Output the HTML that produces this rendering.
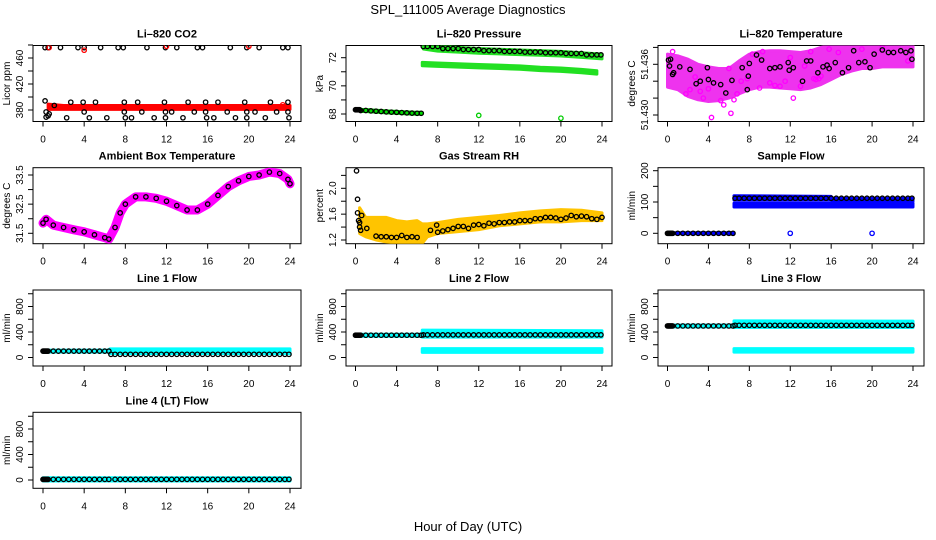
<!DOCTYPE html>
<html><head><meta charset="utf-8"><style>
html,body{margin:0;padding:0;background:#fff}
svg{display:block;font-family:"Liberation Sans",Arial,sans-serif}
</style></head><body>
<svg id="chart" width="936" height="540" viewBox="0 0 936 540" xmlns="http://www.w3.org/2000/svg">
<rect width="936" height="540" fill="#fff"/>
<text x="468" y="14" font-size="13" text-anchor="middle">SPL_111005  Average Diagnostics</text>
<text x="468" y="531" font-size="13" text-anchor="middle">Hour of Day (UTC)</text>
</svg>
<script>
// ---------- data ----------
const xTicks=[0,4,8,12,16,20,24];
const flowHours=[0,0.1,0.2,0.3,0.4,0.5,1,1.5,2,2.5,3,3.5,4,4.5,5,5.5,6,6.4,7,7.5,8,8.5,9,9.5,10,10.5,11,11.5,12,12.5,13,13.5,14,14.5,15,15.5,16,16.5,17,17.5,18,18.5,19,19.5,20,20.5,21,21.5,22,22.5,23,23.5,23.9];
const preHours=[0,0.1,0.2,0.3,0.4,0.5,1,1.5,2,2.5,3,3.5,4,4.5,5,5.5,6,6.4];
const postHours=[6.6,7,7.5,8,8.5,9,9.5,10,10.5,11,11.5,12,12.5,13,13.5,14,14.5,15,15.5,16,16.5,17,17.5,18,18.5,19,19.5,20,20.5,21,21.5,22,22.5,23,23.5,23.9];
// CO2
const co2RedHours=[0.5,2,4,6,8,10,12,14,16,18,20,22,24];
const co2RedLo=[381,381,381,381,381,381,381,381,381,381,381,381,381];
const co2RedHi=[389,387,387,387,387,387,387,387,387,387,387,387,387];
const co2RedPtH=[0.6,4,12,20,23.3];
const co2RedPtV=[476,472,478,478,388];
const co2TopH=[0.2,0.5,1.7,3.4,4,5.6,7.3,7.8,10.1,11.9,13,15,15.5,18.2,19.8,21,23.3,23.8];
const co2TopV=[476,476,476,476,476,476,476,476,476,476,476,476,476,476,476,476,476,476];
const co2LowH=[0.2,0.3,0.3,0.5,0.6,1.1,2.3,2.7,3.9,4,4.5,5.1,6.2,7.9,7.9,8,8.6,9.2,9.6,10.8,11.8,11.9,11.9,12.5,13.6,14.1,14.7,15.8,15.8,15.9,16.6,17,17.9,18.7,19.6,19.8,19.8,20.6,21.6,22.1,22.7,23.8,23.8,23.9];
const co2LowV=[394,377,369,371,374,387,368,392,392,377,368,392,368,392,377,368,368,392,377,368,392,377,368,377,368,392,377,392,377,368,368,392,377,368,392,377,368,377,368,392,377,392,377,368];
// Pressure
const presPreV=[68.3,68.3,68.3,68.3,68.3,68.25,68.25,68.22,68.2,68.18,68.15,68.13,68.12,68.1,68.08,68.06,68.05,68.05];
const presUpH=[6.6,8,10,12,14,16,18,20,22,24];
const presUpV=[72.8,72.65,72.58,72.5,72.45,72.4,72.35,72.3,72.2,72.1];
const presLoH=[6.5,8,10,12,14,16,18,20,22,23.5];
const presLoV=[71.55,71.5,71.45,71.4,71.35,71.3,71.2,71.15,71.05,70.95];
const presOutH=[12,20];
const presOutV=[67.9,67.7];
// Li-820 temperature (cloud band + points)
const tempBandH=[0,1,2,3,4,5,6,7,8,9,10,11,12,13,14,15,16,17,18,19,20,21,22,23,24];
const tempBandLo=[51.4333,51.4330,51.4322,51.4318,51.4316,51.4317,51.4320,51.4325,51.4330,51.4333,51.4333,51.4332,51.4331,51.4330,51.4332,51.4336,51.4342,51.4348,51.4352,51.4355,51.4355,51.4357,51.4357,51.4357,51.4357];
const tempBandHi=[51.4372,51.4370,51.4366,51.4360,51.4357,51.4355,51.4355,51.4364,51.4372,51.4375,51.4376,51.4376,51.4375,51.4374,51.4376,51.4380,51.4382,51.4383,51.4384,51.4384,51.4384,51.4384,51.4384,51.4384,51.4384];
const tempMagH=[0.5,1.8,2.7,3.2,4,4.3,5.2,6,6.2,6.8,7.2,7.8,8.3,9.3,10.5,11.5,12,12.3,13.4,14,14.3,14.8,15.8,16.7,19,21,23.5,2.2,3.5,5.5,6.5,9,10,11,13,14.5,15];
const tempMagV=[51.4375,51.4325,51.4345,51.4328,51.4331,51.4297,51.4317,51.4355,51.4302,51.4325,51.4340,51.4343,51.4372,51.4375,51.4335,51.4340,51.4368,51.4320,51.4358,51.4375,51.4343,51.4343,51.4378,51.4374,51.4378,51.4380,51.4364,51.4330,51.4320,51.4312,51.4318,51.4332,51.4338,51.4334,51.4334,51.4342,51.4346];
const tempBlkH=[0.1,0.2,0.3,0.5,0.6,1.2,2.2,2.8,3.2,3.9,4,4.5,5.2,5.7,6.3,7.3,7.8,7.9,8,8.7,9.2,10,10.5,11,11.8,11.9,12.3,13.2,13.6,14,14.7,15.2,15.6,15.8,16.4,17.1,17.7,18.2,18.7,19.3,19.8,20.2,21,21.6,22.1,22.8,23.3,23.8,23.9];
const tempBlkV=[51.4365,51.4358,51.4366,51.4348,51.4350,51.4357,51.4354,51.4337,51.4340,51.4356,51.4342,51.4338,51.4336,51.4326,51.4341,51.4356,51.4330,51.4346,51.4361,51.4371,51.4365,51.4355,51.4356,51.4357,51.4362,51.4353,51.4356,51.4340,51.4364,51.4364,51.4350,51.4357,51.4359,51.4355,51.4362,51.4350,51.4356,51.4376,51.4362,51.4363,51.4356,51.4372,51.4377,51.4374,51.4374,51.4376,51.4374,51.4376,51.4366];
// Ambient box temperature
const ambH=[0,0.3,1,2,3,4,5,6,6.4,7,7.5,8,9,10,11,12,13,14,15,16,17,18,19,20,21,22,23,23.8,24];
const ambV=[31.85,31.98,31.78,31.7,31.62,31.55,31.45,31.35,31.3,31.7,32.2,32.5,32.75,32.75,32.7,32.6,32.45,32.3,32.3,32.5,32.8,33.1,33.3,33.45,33.5,33.6,33.55,33.35,33.2];
// Gas stream RH
const rhBandH=[0.4,1,2,3,4,5,6,6.5,7,8,10,12,14,16,18,20,22,24];
const rhBandLo=[1.3,1.25,1.2,1.17,1.15,1.15,1.15,1.15,1.25,1.3,1.33,1.36,1.42,1.45,1.48,1.48,1.5,1.5];
const rhBandHi=[1.7,1.55,1.55,1.55,1.5,1.48,1.5,1.45,1.45,1.47,1.52,1.55,1.58,1.62,1.65,1.67,1.66,1.62];
const rhBlkH=[0.1,0.2,0.2,0.3,0.4,0.4,0.5,0.6,1.1,2,2.5,3,3.5,4,4.5,5,5.5,6,7.3,7.9,8,8.5,9,9.5,10,10.5,11,11.5,12,12.5,13,13.5,14,14.5,15,15.5,16,16.5,17,17.5,18,18.5,19,19.5,20,20.5,21,21.5,22,22.5,23,23.5,24];
const rhBlkV=[2.27,1.83,1.62,1.5,1.47,1.4,1.35,1.58,1.38,1.26,1.25,1.25,1.24,1.24,1.27,1.24,1.25,1.24,1.35,1.43,1.32,1.34,1.36,1.38,1.41,1.41,1.38,1.43,1.44,1.42,1.46,1.45,1.47,1.47,1.48,1.48,1.5,1.5,1.5,1.53,1.53,1.55,1.55,1.54,1.52,1.54,1.58,1.56,1.57,1.56,1.53,1.52,1.55];
// Sample flow
const sfBlueLoH=[6.5,24];const sfBlueLo=[84,84];const sfBlueHi=[96,96];
const sfBlueUpH=[6.5,16,16.1,24];const sfBlueUpLo=[106,106,102,102];const sfBlueUpHi=[120,118,112,112];
const sfBlkPost=112;const sfOutH=[12,20];const sfOutV=[0,0];
// Line flows
const l1Pre=100,l1Post=50;const l1BandH=[6.5,24];const l1BandLo=[60,60];const l1BandHi=[135,135];
const l2Pre=350,l2Post=355;const l2BandH=[6.5,24];const l2BandLo=[320,320];const l2BandHi=[430,420];const l2Band2Lo=[80,80];const l2Band2Hi=[140,140];
const l3Pre=495,l3Post=505;const l3BandH=[6.5,24];const l3BandLo=[470,470];const l3BandHi=[575,570];const l3Band2Lo=[85,85];const l3Band2Hi=[140,140];
const l4Val=10;const l4BandH=[0,24];const l4BandLo=[-15,-15];const l4BandHi=[35,35];

// ---------- layout ----------
const svg=document.getElementById('chart');
const NS='http://www.w3.org/2000/svg';
const COLS=[{l:33,r:301,x0:43,x24:290},{l:346,r:612,x0:355.5,x24:602},{l:658,r:924,x0:667.5,x24:913}];
const ROWS=[45.5,167.7,290,412.3];const BH=76;
function mk(tag,attrs,parent){const e=document.createElementNS(NS,tag);for(const k in attrs)e.setAttribute(k,attrs[k]);(parent||svg).appendChild(e);return e;}
function panel(name,row,col,title,ytitle,yA,pA,yB,pB,yticks,ylabels){
  const c=COLS[col],top=ROWS[row],bot=top+BH;
  const g=mk('g',{});
  
  
  const p={g,c,top,bot,
    x:h=>c.x0+(c.x24-c.x0)*h/24,
    y:v=>top+pA+(v-yA)*(pB-pA)/(yB-yA)};
  const t=mk('text',{x:(c.l+c.r)/2,y:top-8,'font-size':11,'font-weight':'bold','text-anchor':'middle'},g);
  t.textContent=title;
  
  
  const box=mk('rect',{x:c.l,y:top,width:c.r-c.l,height:BH,fill:'none',stroke:'#000','stroke-width':1},g);
  
  
  xTicks.forEach(h=>{const X=p.x(h);mk('line',{x1:X,x2:X,y1:bot,y2:bot+5,stroke:'#000'},g);
    const tl=mk('text',{x:X,y:bot+21,'font-size':10,'text-anchor':'middle'},g);tl.textContent=h;
    
    });
  yticks.forEach(v=>{const Y=p.y(v);if(Y<top-1||Y>bot+1)return;mk('line',{x1:c.l-5,x2:c.l,y1:Y,y2:Y,stroke:'#000'},g);});
  ylabels.forEach(v=>{const Y=p.y(v);const tl=mk('text',{x:0,y:0,'font-size':10,'text-anchor':'middle',transform:`translate(${c.l-10},${Y}) rotate(-90)`},g);tl.textContent=v;
    
    });
  const yt=mk('text',{x:0,y:0,'font-size':10,'text-anchor':'middle',transform:`translate(${c.l-23},${(top+bot)/2}) rotate(-90)`},g);
  yt.textContent=ytitle;
  
  
  const clip=mk('clipPath',{id:'cp'+name},g);mk('rect',{x:c.l,y:top,width:c.r-c.l,height:BH},clip);
  p.d=mk('g',{'clip-path':`url(#cp${name})`},g);
  return p;
}
function pts(p,hs,vs,color,name){hs.forEach((h,i)=>{const e=mk('circle',{cx:p.x(h),cy:p.y(vs[i]),r:2.2,fill:'none',stroke:color,'stroke-width':1.3},p.d);
  
  });}
function band(p,hs,lo,hi,color,name){let d='';hs.forEach((h,i)=>{d+=(i?'L':'M')+p.x(h)+','+p.y(hi[i]);});
  for(let i=hs.length-1;i>=0;i--)d+='L'+p.x(hs[i])+','+p.y(lo[i]);
  const e=mk('path',{d:d+'Z',fill:color,stroke:color,'stroke-width':3,'stroke-linejoin':'round'},p.d);
  
  }
function line(p,hs,vs,color,w,name){const e=mk('polyline',{points:hs.map((h,i)=>p.x(h)+','+p.y(vs[i])).join(' '),fill:'none',stroke:color,'stroke-width':w,'stroke-linejoin':'round','stroke-linecap':'round'},p.d);
  
  }
const fill=(arr,v)=>arr.map(()=>v);

// CO2
let p=panel('co2-panel',0,0,'Li\u2013820 CO2','Licor ppm',380,64.5,460,12.5,[380,400,420,440,460,480],[380,420,460]);
band(p,co2RedHours,co2RedLo,co2RedHi,'#ff0000','co2-red-band');
pts(p,co2TopH,co2TopV,'#000','co2-point');pts(p,co2LowH,co2LowV,'#000','co2-point');
pts(p,co2RedPtH,co2RedPtV,'#ff0000','co2-red-point');
// Pressure
p=panel('pressure-panel',0,1,'Li\u2013820 Pressure','kPa',68,68.5,72,12.2,[68,69,70,71,72],[68,70,72]);
line(p,preHours,presPreV,'#00dd00',5,'pressure-green-pre');
pts(p,preHours,presPreV,'#000','pressure-point');
band(p,presLoH,presLoV.map(v=>v-0.12),presLoV.map(v=>v+0.12),'#22e022','pressure-green-low');
band(p,presUpH,presUpV.map(v=>v-0.18),presUpV.map(v=>v+0.15),'#22e022','pressure-green-high');
pts(p,postHours,postHours.map((h)=>{let i=0;while(i<presUpH.length-2&&presUpH[i+1]<h)i++;return presUpV[i];}),'#000','pressure-point');
pts(p,presOutH,presOutV,'#00cc00','pressure-outlier');
// Temperature
p=panel('li820-temp-panel',0,2,'Li\u2013820 Temperature','degrees C',51.430,69.5,51.436,18.8,[51.430,51.432,51.434,51.436,51.438],['51.430','51.436']);
band(p,tempBandH,tempBandLo,tempBandHi,'#ee33ee','temp-magenta-cloud');
pts(p,tempMagH,tempMagV,'#ff00ff','temp-magenta-point');
pts(p,tempBlkH,tempBlkV,'#000','temp-black-point');
// Ambient
p=panel('ambient-temp-panel',1,0,'Ambient Box Temperature','degrees C',31.5,65.6,33.5,7.3,[31.5,32,32.5,33,33.5],['31.5','32.5','33.5']);
line(p,ambH,ambV,'#ff00ff',9,'ambient-magenta-line');
pts(p,ambH,ambV,'#000','ambient-point');
// RH
p=panel('rh-panel',1,1,'Gas Stream RH','percent',1.2,72.3,2.0,20.6,[1.2,1.4,1.6,1.8,2.0,2.2],['1.2','1.6','2.0']);
band(p,rhBandH,rhBandLo,rhBandHi,'#ffc400','rh-orange-band');
pts(p,rhBlkH,rhBlkV,'#000','rh-point');
// Sample flow
p=panel('sample-flow-panel',1,2,'Sample Flow','ml/min',0,65.6,200,3,[0,50,100,150,200],[0,100,200]);
band(p,sfBlueLoH,sfBlueLo,sfBlueHi,'#0000ff','sample-blue-band');
band(p,sfBlueUpH,sfBlueUpLo,sfBlueUpHi,'#0000ff','sample-blue-band-upper');
line(p,preHours,fill(preHours,0),'#0000ff',4,'sample-blue-zero');
pts(p,preHours,fill(preHours,0),'#000','sample-point');
pts(p,postHours,fill(postHours,sfBlkPost),'#000','sample-point');
pts(p,sfOutH,sfOutV,'#0000ff','sample-outlier');
// Line flows
const fy=[0,200,400,600,800,1000],fl=[0,400,800];
p=panel('line1-flow-panel',2,0,'Line 1 Flow','ml/min',0,67.5,800,16.5,fy,fl);
line(p,preHours,fill(preHours,l1Pre),'#00ffff',5,'line1-cyan-pre');
band(p,l1BandH,l1BandLo,l1BandHi,'#00ffff','line1-cyan-band');
pts(p,preHours,fill(preHours,l1Pre),'#000','line1-point');pts(p,postHours,fill(postHours,l1Post),'#000','line1-point');
p=panel('line2-flow-panel',2,1,'Line 2 Flow','ml/min',0,67.5,800,16.5,fy,fl);
line(p,preHours,fill(preHours,l2Pre),'#00ffff',5,'line2-cyan-pre');
band(p,l2BandH,l2BandLo,l2BandHi,'#00ffff','line2-cyan-band');band(p,l2BandH,l2Band2Lo,l2Band2Hi,'#00ffff','line2-cyan-band-low');
pts(p,preHours,fill(preHours,l2Pre),'#000','line2-point');pts(p,postHours,fill(postHours,l2Post),'#000','line2-point');
p=panel('line3-flow-panel',2,2,'Line 3 Flow','ml/min',0,67.5,800,16.5,fy,fl);
line(p,preHours,fill(preHours,l3Pre),'#00ffff',5,'line3-cyan-pre');
band(p,l3BandH,l3BandLo,l3BandHi,'#00ffff','line3-cyan-band');band(p,l3BandH,l3Band2Lo,l3Band2Hi,'#00ffff','line3-cyan-band-low');
pts(p,preHours,fill(preHours,l3Pre),'#000','line3-point');pts(p,postHours,fill(postHours,l3Post),'#000','line3-point');
p=panel('line4-flow-panel',3,0,'Line 4 (LT) Flow','ml/min',0,67.7,800,16.7,fy,fl);
band(p,l4BandH,l4BandLo,l4BandHi,'#00ffff','line4-cyan-band');
pts(p,flowHours,fill(flowHours,l4Val),'#000','line4-point');
</script>
</body></html>
